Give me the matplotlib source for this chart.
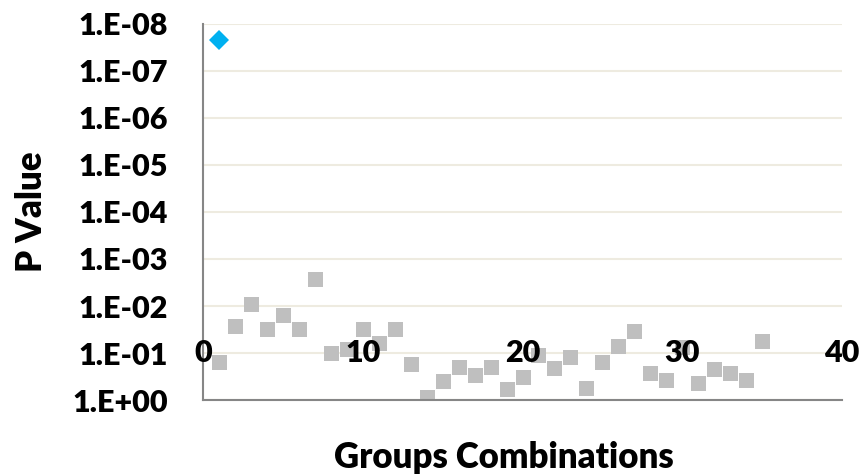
import matplotlib.pyplot as plt

plt.rcParams["font.family"] = ["Lato", "DejaVu Sans"]

GRAY = "#BFBFBF"
BLUE = "#00B0F0"
AXIS_GRAY = "#868686"
GRID_COLOR = "#EEEBE0"

# Gray series: group combination index vs p value
combo_x = list(range(1, 36))
combo_p = [
    0.153, 0.026, 0.0091, 0.031, 0.0155, 0.031, 0.0026, 0.10, 0.082, 0.031,
    0.062, 0.031, 0.17, 0.85, 0.39, 0.20, 0.30, 0.20, 0.59, 0.32,
    0.11, 0.21, 0.12, 0.55, 0.153, 0.071, 0.034, 0.27, 0.37, 0.075,
    0.44, 0.22, 0.27, 0.37, 0.056,
]

# Highlighted point
best_x = [1]
best_p = [2.2e-8]

y_ticks = [1e-8, 1e-7, 1e-6, 1e-5, 1e-4, 1e-3, 1e-2, 1e-1, 1e0]
y_labels = ["1.E-08", "1.E-07", "1.E-06", "1.E-05", "1.E-04",
            "1.E-03", "1.E-02", "1.E-01", "1.E+00"]
x_ticks = [0, 10, 20, 30, 40]

WEIGHT = "heavy"

fig = plt.figure(figsize=(8.66, 4.74), dpi=100)
ax = fig.add_axes([0.2344, 0.1561, 0.7379, 0.7933])

ax.plot(combo_x, combo_p, linestyle="none", marker="s", markersize=10.8,
        color=GRAY, markeredgewidth=0)
ax.plot(best_x, best_p, linestyle="none", marker="D", markersize=10.2,
        color=BLUE, markeredgewidth=0)

ax.set_yscale("log")
ax.set_ylim(1e0, 1e-8)
ax.set_xlim(0, 40)
ax.set_yticks(y_ticks)
ax.set_yticklabels(y_labels)
ax.minorticks_off()
ax.set_xticks(x_ticks)
ax.set_xticklabels([])

# Excel puts the category labels where the axis crosses (0.1)
for xv in x_ticks:
    ax.text(xv, 1e-1, str(xv), ha="center", va="center", fontsize=22,
            fontweight=WEIGHT, color="black")

ax.grid(axis="y", color=GRID_COLOR, linewidth=1.5)
ax.set_axisbelow(True)

for side in ["top", "right"]:
    ax.spines[side].set_visible(False)
ax.spines["left"].set_color(AXIS_GRAY)
ax.spines["bottom"].set_color(AXIS_GRAY)
ax.spines["left"].set_linewidth(1.5)
ax.spines["bottom"].set_linewidth(1.5)

ax.tick_params(axis="both", length=0)
ax.tick_params(axis="y", pad=25, labelsize=22)
for lbl in ax.get_yticklabels():
    lbl.set_fontweight(WEIGHT)

fig.text(32 / 866, 1 - 212 / 474, "P Value", rotation=90, ha="center",
         va="center", fontsize=25, fontweight=WEIGHT)
fig.text(504 / 866, 1 - 458 / 474, "Groups Combinations", ha="center",
         va="center", fontsize=25, fontweight=WEIGHT)

fig.savefig("out.png", dpi=100)
